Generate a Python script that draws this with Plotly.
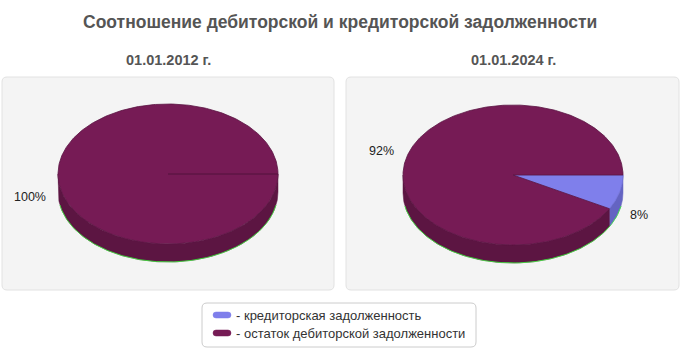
import numpy as np
import plotly.graph_objects as go

# ---------------- data ----------------
title_text = "Соотношение дебиторской и кредиторской задолженности"
dates = ["01.01.2012 г.", "01.01.2024 г."]
categories = ["кредиторская задолженность", "остаток дебиторской задолженности"]
values_2012 = [0, 100]
values_2024 = [8, 92]
series = [values_2012, values_2024]

# ---------------- style ----------------
W, H = 680, 350
FONT = "Liberation Sans, Arial, sans-serif"
top_colors = ["#7F7FEB", "#761B55"]
side_colors = ["#6464C2", "#5C1542"]
edge_colors = ["#6E6ED8", "#5A1442"]
centers = [(168, 174), (513, 175)]
RX, RY, DEPTH = 110, 70, 18
panels = [(2, 77, 334, 290), (346, 77, 679, 290)]

fig = go.Figure()


def rrect(x0, y0, x1, y1, r):
    return (f"M {x0+r},{y0} L {x1-r},{y0} Q {x1},{y0} {x1},{y0+r} "
            f"L {x1},{y1-r} Q {x1},{y1} {x1-r},{y1} L {x0+r},{y1} "
            f"Q {x0},{y1} {x0},{y1-r} L {x0},{y0+r} Q {x0},{y0} {x0+r},{y0} Z")


shapes = []
annotations = []
for (x0, y0, x1, y1) in panels:
    shapes.append(dict(type="path", path=rrect(x0, y0, x1, y1, 5), xref="x", yref="y",
                       fillcolor="#F4F4F4", line=dict(color="#E2E2E2", width=1), layer="below"))

for ci, vals in enumerate(series):
    cx, cy = centers[ci]
    total = float(sum(vals))
    fracs = [v / total for v in vals]
    starts = np.cumsum([0] + fracs[:-1]) * 2 * np.pi
    ends = np.cumsum(fracs) * 2 * np.pi

    # side walls (front half: t in [0, pi])
    for k in range(len(vals)):
        a, b = max(starts[k], 0), min(ends[k], np.pi)
        if fracs[k] <= 0 or b <= a:
            continue
        t = np.linspace(a, b, 200)
        xs = np.concatenate([cx + RX * np.cos(t), (cx + RX * np.cos(t))[::-1]])
        ys = np.concatenate([cy + RY * np.sin(t), (cy + DEPTH + RY * np.sin(t))[::-1]])
        fig.add_trace(go.Scatter(x=np.append(xs, xs[0]), y=np.append(ys, ys[0]),
                                 mode="lines", fill="toself", fillcolor=side_colors[k],
                                 line=dict(color=side_colors[k], width=0.5),
                                 hoverinfo="skip", showlegend=False))
    # thin green rim along the bottom
    tg = np.linspace(0.06 * np.pi, 0.94 * np.pi, 200)
    fig.add_trace(go.Scatter(x=cx + RX * np.cos(tg), y=cy + DEPTH + RY * np.sin(tg),
                             mode="lines", line=dict(color="#33EE33", width=1),
                             opacity=0.8, hoverinfo="skip", showlegend=False))
    # tops
    for k in range(len(vals)):
        if fracs[k] <= 0:
            continue
        t = np.linspace(starts[k], ends[k], 400)
        xs = np.concatenate([[cx], cx + RX * np.cos(t), [cx]])
        ys = np.concatenate([[cy], cy + RY * np.sin(t), [cy]])
        fig.add_trace(go.Scatter(x=xs, y=ys, mode="lines", fill="toself",
                                 fillcolor=top_colors[k],
                                 line=dict(color=edge_colors[k], width=0.8),
                                 hoverinfo="skip", showlegend=False))
        # label
        mid = (starts[k] + ends[k]) / 2
        ex, ey = cx + RX * np.cos(mid), cy + RY * np.sin(mid)
        if np.cos(mid) >= 0:
            lx, xa = ex + 8, "left"
        else:
            lx, xa = ex - 10, "right"
        ly = ey + (DEPTH + 5 if np.sin(mid) >= -0.01 else -7)
        annotations.append(dict(x=lx, y=ly, xref="x", yref="y", text=f"{round(fracs[k]*100)}%",
                                showarrow=False, xanchor=xa, yanchor="middle",
                                font=dict(family=FONT, size=12.5, color="#222222")))

    annotations.append(dict(x=cx, y=60, xref="x", yref="y", text=f"<b>{dates[ci]}</b>",
                            showarrow=False, xanchor="center", yanchor="middle",
                            font=dict(family=FONT, size=14.5, color="#555555")))

annotations.append(dict(x=W / 2, y=22, xref="x", yref="y", text=f"<b>{title_text}</b>",
                        showarrow=False, xanchor="center", yanchor="middle",
                        font=dict(family=FONT, size=17.5, color="#555555")))

# legend
shapes.append(dict(type="path", path=rrect(202, 303, 476, 347, 5), xref="x", yref="y",
                   fillcolor="#FFFFFF", line=dict(color="#CCCCCC", width=1), layer="below"))
for k, cat in enumerate(categories):
    yy = 315 + k * 18
    shapes.append(dict(type="path", path=rrect(213, yy - 3, 231, yy + 3, 3), xref="x", yref="y",
                       fillcolor=top_colors[k], line=dict(color=top_colors[k], width=0.5)))
    annotations.append(dict(x=234, y=yy, xref="x", yref="y", text="- " + cat,
                            showarrow=False, xanchor="left", yanchor="middle",
                            font=dict(family=FONT, size=13, color="#333333")))

fig.update_layout(
    width=W, height=H, margin=dict(l=0, r=0, t=0, b=0),
    paper_bgcolor="#FFFFFF", plot_bgcolor="rgba(0,0,0,0)",
    xaxis=dict(range=[0, W], visible=False, fixedrange=True),
    yaxis=dict(range=[H, 0], visible=False, fixedrange=True),
    shapes=shapes, annotations=annotations, showlegend=False,
)
fig.write_html("out.html", config={"displayModeBar": False})
